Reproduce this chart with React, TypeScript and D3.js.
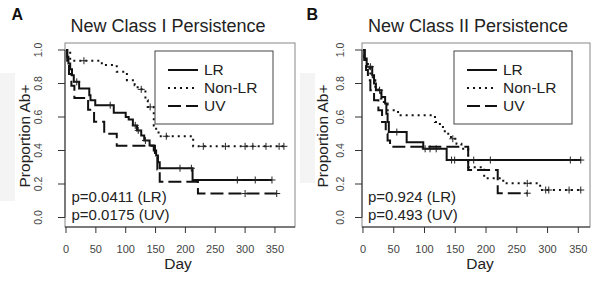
import React from "react";
import * as d3 from "d3";

type Step = [number, number];

// ---------- data ----------
const xTicks = [0, 50, 100, 150, 200, 250, 300, 350];
const yTicks = [0, 0.2, 0.4, 0.6, 0.8, 1.0];
const seriesNames = ["LR", "Non-LR", "UV"];

const titleA = "New Class I Persistence";
const titleB = "New Class II Persistence";
const pTextA = ["p=0.0411 (LR)", "p=0.0175 (UV)"];
const pTextB = ["p=0.924 (LR)", "p=0.493 (UV)"];

// Panel A: [day, proportion] at each event
const lrA: Step[] = [
  [0, 1], [2, 0.96], [4, 0.92], [7, 0.885], [10, 0.85], [13, 0.81], [22, 0.77],
  [39, 0.73], [41, 0.70], [49, 0.67], [80, 0.625], [100, 0.6], [105, 0.585],
  [112, 0.55], [119, 0.52], [126, 0.49], [131, 0.46], [140, 0.43], [147, 0.40],
  [151, 0.37], [154, 0.33], [157, 0.294], [212, 0.224],
];
const lrACensor = [18, 74, 116, 121, 133, 191, 210, 287, 317, 345];

const nonLrA: Step[] = [
  [0, 1], [7, 0.936], [60, 0.91], [85, 0.87], [102, 0.82], [115, 0.79],
  [120, 0.765], [133, 0.70], [137, 0.66], [147, 0.55], [151, 0.52],
  [155, 0.485], [213, 0.425],
];
const nonLrACensor = [30, 126, 141, 168, 230, 267, 300, 313, 335, 357, 365];

const uvA: Step[] = [
  [0, 1], [2, 0.929], [5, 0.857], [9, 0.786], [14, 0.714], [37, 0.643],
  [47, 0.571], [64, 0.5], [85, 0.429], [149, 0.357], [153, 0.286],
  [157, 0.214], [221, 0.143],
];
const uvACensor = [300, 353];

// Panel B
const lrB: Step[] = [
  [0, 1], [3, 0.95], [6, 0.9], [15, 0.85], [18, 0.8], [21, 0.76], [30, 0.72],
  [36, 0.68], [38, 0.62], [40, 0.57], [42, 0.51], [71, 0.45], [98, 0.41],
  [136, 0.343],
];
const lrBCensor = [12, 27, 55, 101, 109, 119, 144, 149, 180, 207, 337, 354];

const nonLrB: Step[] = [
  [0, 1], [2, 0.96], [5, 0.93], [8, 0.89], [12, 0.86], [16, 0.82], [20, 0.78],
  [25, 0.75], [29, 0.71], [34, 0.68], [40, 0.64], [57, 0.61], [117, 0.57],
  [125, 0.54], [133, 0.5], [143, 0.47], [152, 0.44], [160, 0.41], [171, 0.3],
  [197, 0.234], [228, 0.204], [288, 0.164],
];
const nonLrBCensor = [146, 267, 297, 302, 335, 354];

const uvB: Step[] = [
  [0, 1], [2, 0.94], [5, 0.88], [8, 0.82], [12, 0.76], [18, 0.7], [25, 0.64],
  [31, 0.57], [37, 0.5], [40, 0.46], [44, 0.423], [171, 0.284], [219, 0.145],
];
const uvBCensor = [267];

// ---------- drawing ----------
const FONT = "'Liberation Sans', Arial, Helvetica, sans-serif";
const dashes = ["", "2,4", "13,5"];

function survAt(steps: Step[], day: number) {
  let v = steps[0][1];
  for (const [d, s] of steps) if (d <= day) v = s;
  return v;
}

type PanelProps = {
  letter: string;
  letterX: number;
  title: string;
  titleX: number;
  left: number;
  right: number;
  xMin: number;
  xMax: number;
  yTickLabelX: number;
  yLabelX: number;
  dayX: number;
  legendX: number;
  pText: string[];
  pX: number;
  series: Step[][];
  censors: number[][];
};

function Panel(p: PanelProps) {
  const top = 43;
  const bottom = 227;
  const x = d3.scaleLinear().domain([p.xMin, p.xMax]).range([p.left, p.right]);
  const y = d3.scaleLinear().domain([0, 1]).range([217.5, 50]);
  const line = d3
    .line<Step>()
    .x((d) => x(d[0]))
    .y((d) => y(d[1]))
    .curve(d3.curveStepAfter);

  const legW = 118;
  const legTop = 51;
  const rowY = [70, 88, 106];

  return (
    <g>
      <text x={p.letterX} y={20} fontFamily={FONT} fontWeight="bold" fontSize={16} fill="#111">
        {p.letter}
      </text>
      <text x={p.titleX} y={32} textAnchor="middle" fontFamily={FONT} fontSize={18} fill="#222">
        {p.title}
      </text>
      {/* box */}
      <rect x={p.left} y={top} width={p.right - p.left} height={bottom - top} fill="none" stroke="#888" strokeWidth={1} />
      {/* x axis */}
      <line x1={p.left} x2={p.right} y1={bottom} y2={bottom} stroke="#333" strokeWidth={1} />
      {xTicks.map((t) => (
        <g key={"x" + t}>
          <line x1={x(t)} x2={x(t)} y1={bottom} y2={bottom + 6} stroke="#333" />
          <text x={x(t)} y={253} textAnchor="middle" fontFamily={FONT} fontSize={11} fill="#444">
            {t}
          </text>
        </g>
      ))}
      <text x={p.dayX} y={269} textAnchor="middle" fontFamily={FONT} fontSize={15.5} fill="#222">
        Day
      </text>
      {/* y axis */}
      <line x1={p.left} x2={p.left} y1={y(0)} y2={y(1)} stroke="#333" />
      {yTicks.map((t) => (
        <g key={"y" + t}>
          <line x1={p.left} x2={p.left - 7} y1={y(t)} y2={y(t)} stroke="#333" />
          <text
            transform={`translate(${p.yTickLabelX},${y(t)}) rotate(-90)`}
            textAnchor="middle"
            fontFamily={FONT}
            fontSize={10.5}
            fill="#444"
          >
            {t.toFixed(1)}
          </text>
        </g>
      ))}
      <text
        transform={`translate(${p.yLabelX},136) rotate(-90)`}
        textAnchor="middle"
        fontFamily={FONT}
        fontSize={15.5}
        fill="#222"
      >
        Proportion Ab+
      </text>
      {/* curves */}
      {p.series.map((s, i) => {
        const cens = p.censors[i];
        const end = Math.max(s[s.length - 1][0], cens.length ? cens[cens.length - 1] : 0);
        const pts: Step[] = [...s, [end, s[s.length - 1][1]]];
        return (
          <g key={"s" + i}>
            <path d={line(pts) || ""} fill="none" stroke="#111" strokeWidth={2} strokeDasharray={dashes[i]} />
            {cens.map((c, j) => {
              const cx = x(c);
              const cy = y(survAt(s, c));
              return (
                <path
                  key={j}
                  d={`M${cx - 3.5},${cy}H${cx + 3.5}M${cx},${cy - 3.5}V${cy + 3.5}`}
                  stroke="#222"
                  strokeWidth={1}
                  fill="none"
                />
              );
            })}
          </g>
        );
      })}
      {/* legend */}
      <rect x={p.legendX} y={legTop} width={legW} height={73} fill="#fff" stroke="#444" strokeWidth={1} />
      {seriesNames.map((n, i) => (
        <g key={n}>
          <line
            x1={p.legendX + 13}
            x2={p.legendX + 43}
            y1={rowY[i]}
            y2={rowY[i]}
            stroke="#111"
            strokeWidth={2}
            strokeDasharray={dashes[i]}
          />
          <text x={p.legendX + 49} y={rowY[i]} dy="0.35em" fontFamily={FONT} fontSize={15.5} fill="#222">
            {n}
          </text>
        </g>
      ))}
      {/* p values */}
      {p.pText.map((t, i) => (
        <text key={t} x={p.pX} y={202 + i * 18} fontFamily={FONT} fontSize={15} fill="#222">
          {t}
        </text>
      ))}
    </g>
  );
}

export default function App() {
  return (
    <svg
      width={600}
      height={283}
      style={{ position: "absolute", left: 0, top: 0, background: "#fff" }}
    >
      <rect x={0} y={0} width={600} height={283} fill="#fff" />
      <rect x={0} y={73} width={15} height={128} fill="#f4f4f4" />
      <rect x={300} y={73} width={15} height={110} fill="#f4f4f4" />
      <Panel
        letter="A"
        letterX={11.5}
        title={titleA}
        titleX={168}
        left={65}
        right={295}
        xMin={-1.7}
        xMax={383.6}
        yTickLabelX={42}
        yLabelX={30}
        dayX={178}
        legendX={155}
        pText={pTextA}
        pX={71.5}
        series={[lrA, nonLrA, uvA]}
        censors={[lrACensor, nonLrACensor, uvACensor]}
      />
      <Panel
        letter="B"
        letterX={306.5}
        title={titleB}
        titleX={468}
        left={362}
        right={590}
        xMin={-1.6}
        xMax={369}
        yTickLabelX={344}
        yLabelX={328}
        dayX={480}
        legendX={454}
        pText={pTextB}
        pX={368}
        series={[lrB, nonLrB, uvB]}
        censors={[lrBCensor, nonLrBCensor, uvBCensor]}
      />
    </svg>
  );
}
